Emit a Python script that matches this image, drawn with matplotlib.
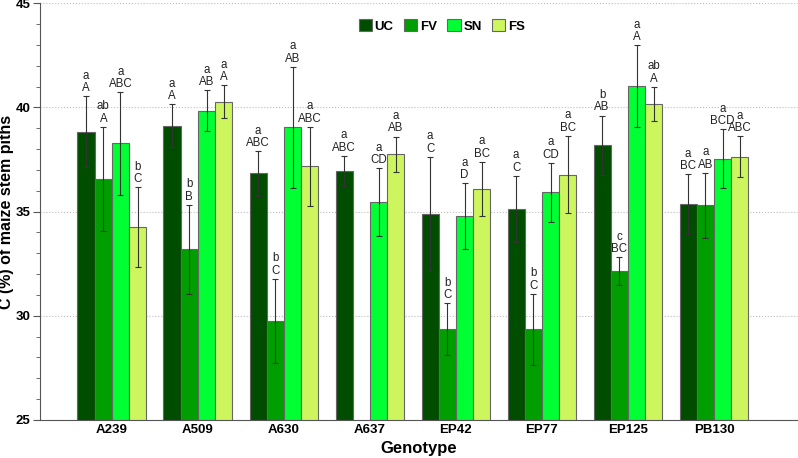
import numpy as np
import matplotlib
matplotlib.use('Agg')
import matplotlib.pyplot as plt
from matplotlib.ticker import MultipleLocator

plt.rcParams['font.family'] = ['Liberation Sans', 'DejaVu Sans']

genotypes = ['A239', 'A509', 'A630', 'A637', 'EP42', 'EP77', 'EP125', 'PB130']
treatments = ['UC', 'FV', 'SN', 'FS']

# mean C (%) per treatment, one value per genotype
uc = [38.83, 39.12, 36.83, 36.96, 34.89, 35.12, 38.19, 35.35]
fv = [36.56, 33.19, 29.75, np.nan, 29.36, 29.35, 32.15, 35.30]
sn = [38.27, 39.85, 39.04, 35.46, 34.78, 35.92, 41.03, 37.53]
fs = [34.24, 40.28, 37.17, 37.74, 36.09, 36.77, 40.16, 37.64]

# standard deviations
uc_sd = [1.70, 1.03, 1.06, 0.71, 2.73, 1.60, 1.42, 1.44]
fv_sd = [2.50, 2.13, 2.03, np.nan, 1.23, 1.71, 0.65, 1.57]
sn_sd = [2.45, 0.97, 2.90, 1.63, 1.59, 1.42, 1.96, 1.42]
fs_sd = [1.92, 0.79, 1.90, 0.86, 1.30, 1.86, 0.82, 0.97]

# significance letters (lowercase within genotype, uppercase within treatment)
uc_lab = ['a\nA', 'a\nA', 'a\nABC', 'a\nABC', 'a\nC', 'a\nC', 'b\nAB', 'a\nBC']
fv_lab = ['ab\nA', 'b\nB', 'b\nC', '', 'b\nC', 'b\nC', 'c\nBC', 'a\nAB']
sn_lab = ['a\nABC', 'a\nAB', 'a\nAB', 'a\nCD', 'a\nD', 'a\nCD', 'a\nA', 'a\nBCD']
fs_lab = ['b\nC', 'a\nA', 'a\nABC', 'a\nAB', 'a\nBC', 'a\nBC', 'ab\nA', 'a\nABC']

colors = ['#004d00', '#009e00', '#00ff33', '#ccf55e']

means = [uc, fv, sn, fs]
sds = [uc_sd, fv_sd, sn_sd, fs_sd]
labs = [uc_lab, fv_lab, sn_lab, fs_lab]

x = np.arange(len(genotypes))
width = 0.2

fig = plt.figure(figsize=(7.98, 4.58), dpi=100)
ax = fig.add_axes([0.050, 0.083, 0.950, 0.910])

for i, name in enumerate(treatments):
    pos = x + (i - 1.5) * width
    ax.bar(pos, means[i], width, color=colors[i], edgecolor='#666666',
           linewidth=0.8, label=name, zorder=2)
    ax.errorbar(pos, means[i], yerr=sds[i], fmt='none', ecolor='#333333',
                elinewidth=0.8, capsize=2.5, capthick=0.8, zorder=3)
    for p, m, s, t in zip(pos, means[i], sds[i], labs[i]):
        if t:
            ax.text(p, m + s + 0.1, t, ha='center', va='bottom', fontsize=8.3,
                    linespacing=1.05, color='#222222', zorder=4)

ax.set_ylim(25, 45)
ax.set_xlim(-0.837, 7.977)
ax.yaxis.set_major_locator(MultipleLocator(5))
ax.yaxis.set_minor_locator(MultipleLocator(1))
ax.set_xticks(x)
ax.set_xticklabels(genotypes, fontweight='bold', fontsize=9.5)
for t in ax.get_yticklabels():
    t.set_fontweight('bold')
    t.set_fontsize(9.5)
ax.tick_params(axis='x', length=0, pad=3)
ax.tick_params(axis='y', which='major', length=5, color='#555555', direction='out', pad=2)
ax.tick_params(axis='y', which='minor', length=3, color='#555555', direction='out')

ax.yaxis.grid(True, linestyle=':', color='#bbbbbb', linewidth=0.8, zorder=0)
ax.set_axisbelow(True)

for side in ['top', 'right']:
    ax.spines[side].set_visible(False)
ax.spines['left'].set_color('#555555')
ax.spines['bottom'].set_color('#555555')

ax.set_xlabel('Genotype', fontweight='bold', fontsize=12, va='center')
ax.xaxis.set_label_coords(0.5, -0.069)
ax.set_ylabel('C (%) of maize stem piths', fontweight='bold', fontsize=11.5, va='center')
ax.yaxis.set_label_coords(-0.0435, 0.5)

leg = ax.legend(loc='upper center', bbox_to_anchor=(0.53, 0.99), ncol=4,
                frameon=False, handlelength=1.0, handleheight=1.0,
                handletextpad=0.2, columnspacing=0.8,
                prop={'weight': 'bold', 'size': 9.5})

fig.savefig('out.png', dpi=100)
